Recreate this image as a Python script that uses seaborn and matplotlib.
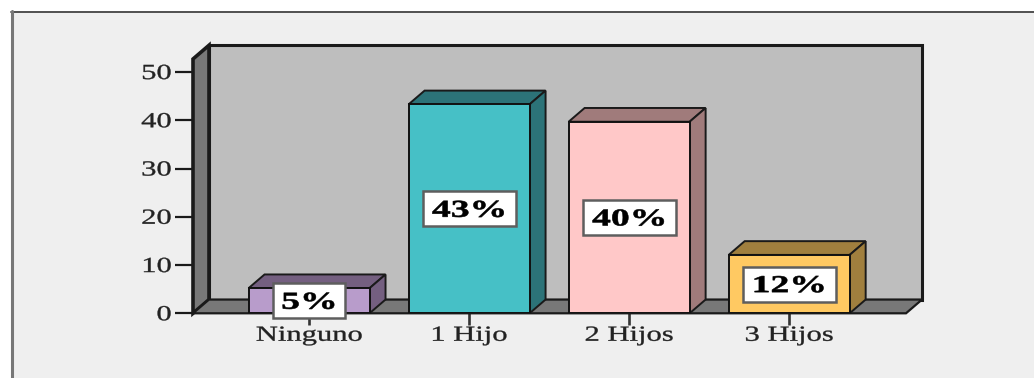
import matplotlib
matplotlib.use("Agg")
import matplotlib.pyplot as plt
import seaborn as sns
import pandas as pd
from matplotlib.patches import Polygon, Rectangle
from matplotlib.lines import Line2D
from matplotlib.patheffects import AbstractPathEffect
from matplotlib.transforms import Affine2D

categorias = ["Ninguno", "1 Hijo", "2 Hijos", "3 Hijos"]
valores = [5.2, 43.3, 39.7, 12.1]
etiquetas = ["5%", "43%", "40%", "12%"]
colores = ["#b89ccb", "#46c0c6", "#ffc8c8", "#ffc962"]
colores_lado = ["#745f80", "#2c7378", "#a07b7b", "#a07f3e"]
yticks = [0, 10, 20, 30, 40, 50]

W, H = 1034, 378
DX, DY = 0.1, 2.85       # depth of the 3D effect, data units
XL, XR = -0.725, 3.73
YT = 52.7


class Stretch(AbstractPathEffect):
    """Widen real text horizontally about its centre or right end."""
    def __init__(self, sx, anchor="center", stroke=0.0):
        super().__init__()
        self.sx, self.anchor, self.stroke = sx, anchor, stroke

    def draw_path(self, renderer, gc, tpath, affine, rgbFace=None):
        ext = tpath.get_extents(affine)
        cx = ext.x1 if self.anchor == "right" else 0.5 * (ext.x0 + ext.x1)
        t = affine + Affine2D().translate(-cx, 0).scale(self.sx, 1).translate(cx, 0)
        gc0 = renderer.new_gc()
        gc0.copy_properties(gc)
        if self.stroke:
            gc0.set_linewidth(self.stroke)
            gc0.set_foreground(rgbFace)
        renderer.draw_path(gc0, tpath, t, rgbFace)
        gc0.restore()


sns.set_theme(style="white")
plt.rcParams["font.family"] = ["Liberation Serif", "DejaVu Serif"]

fig = plt.figure(figsize=(W / 100, H / 100), dpi=100, facecolor="white")
fig.add_artist(Rectangle((11 / W, 0), 1, 1 - 11 / H, transform=fig.transFigure,
                         facecolor="#efefef", edgecolor="none", zorder=-5))
fig.add_artist(Line2D([11 / W, 1], [1 - 11.5 / H] * 2, color="#444444", lw=1.3, zorder=-4))
fig.add_artist(Line2D([11.5 / W] * 2, [0, 1 - 11 / H], color="#777777", lw=2.2, zorder=-4))

ax = fig.add_axes([193 / W, 1 - 313.3 / H, (906 - 193) / W, (313.3 - 59) / H])
ax.patch.set_visible(False)

df = pd.DataFrame({"categoria": categorias, "valor": valores})
sns.barplot(data=df, x="categoria", y="valor", hue="categoria", order=categorias,
            hue_order=categorias, palette=colores, width=0.756, dodge=False,
            legend=False, saturation=1, edgecolor="#111111", linewidth=1.4, zorder=3, ax=ax)
ax.set_xlim(XL, XR)
ax.set_ylim(0, YT)
ax.set_xlabel("")
ax.set_ylabel("")

# back wall, side wall and floor
ek = dict(edgecolor="#1a1a1a", clip_on=False, joinstyle="miter")
ax.add_patch(Polygon([(XL + DX, DY), (XR + DX, DY), (XR + DX, YT + DY), (XL + DX, YT + DY)],
                     facecolor="#bebebe", lw=2.2, zorder=0.5, **ek))
ax.add_patch(Polygon([(XL, 0), (XL + DX, DY), (XL + DX, YT + DY), (XL, YT)],
                     facecolor="#787878", lw=2.6, zorder=0.6, **ek))
ax.add_patch(Polygon([(XL, 0), (XL + DX, DY), (XR + DX, DY), (XR, 0)],
                     facecolor="#787878", lw=1.6, zorder=0.6, **ek))

# 3D faces and value boxes, derived from the bars
bars = sorted([p for p in ax.patches if p.get_zorder() == 3 and p.get_height() > 0],
              key=lambda p: p.get_x())
for bar, lado, etq in zip(bars, colores_lado, etiquetas):
    x0, w, h = bar.get_x(), bar.get_width(), bar.get_height()
    x1 = x0 + w
    ax.add_patch(Polygon([(x0, h), (x0 + DX, h + DY), (x1 + DX, h + DY), (x1, h)],
                         facecolor=lado, lw=1.4, zorder=2.5, **ek))
    ax.add_patch(Polygon([(x1, 0), (x1 + DX, DY), (x1 + DX, h + DY), (x1, h)],
                         facecolor=lado, lw=1.4, zorder=2.5, **ek))
    bw = (72 if len(etq) == 2 else 93) / 160
    bh = 35 / 4.82
    cx, cy = x0 + w / 2, h / 2
    ax.add_patch(Rectangle((cx - bw / 2, cy - bh / 2), bw, bh, facecolor="white",
                           edgecolor="#5e5e5e", lw=1.8, clip_on=False, zorder=6))
    ax.text(cx, cy, etq, ha="center", va="center_baseline", fontsize=17.5, fontweight="bold",
            color="black", zorder=7, clip_on=False, path_effects=[Stretch(1.55, stroke=0.4)])

for s in ax.spines.values():
    s.set_visible(False)

ax.set_yticks(yticks)
ax.set_xticks(range(len(categorias)))
ax.set_xticklabels(categorias)
ax.tick_params(axis="y", left=True, length=13, width=1.6, color="#1a1a1a", pad=2.5,
               labelsize=15.5, labelcolor="#222222")
ax.tick_params(axis="x", bottom=True, length=8.5, width=1.9, color="#333333", pad=1.2,
               labelsize=15.5, labelcolor="#222222")
for lab in ax.get_yticklabels():
    lab.set_path_effects([Stretch(1.42, "right", stroke=0.25)])
for lab in ax.get_xticklabels():
    lab.set_path_effects([Stretch(1.42, stroke=0.25)])

fig.savefig("out.png", dpi=100, facecolor="white")
